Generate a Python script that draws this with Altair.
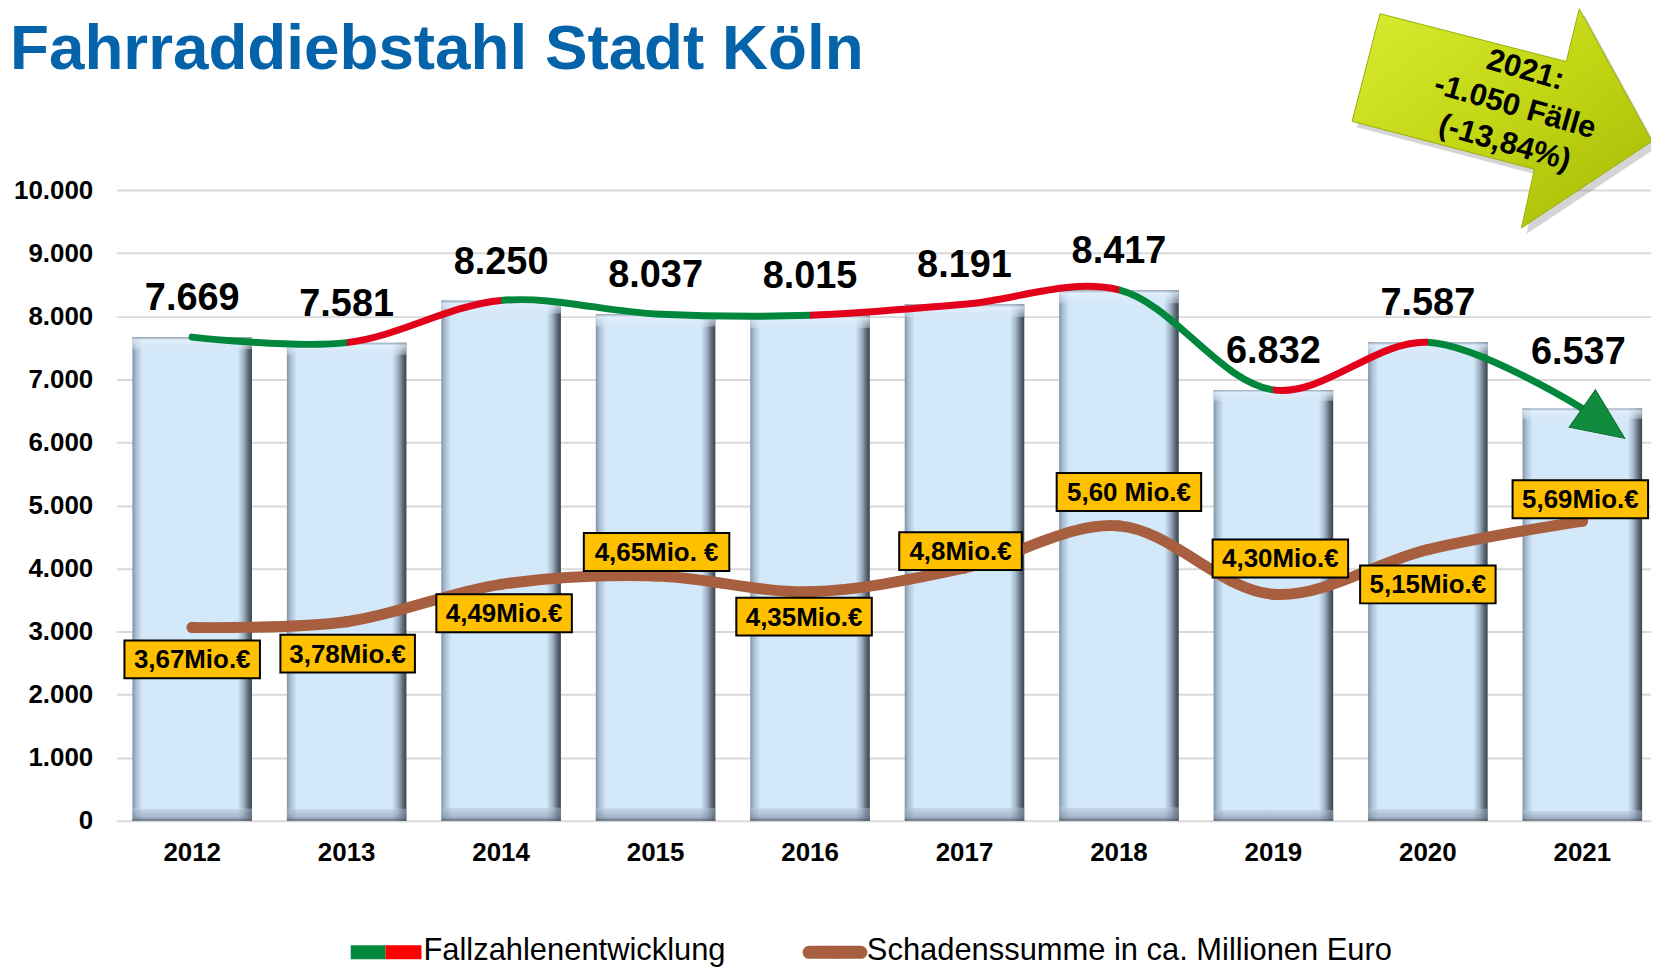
import altair as alt
import pandas as pd

# ---------------- data ----------------
years = ["2012", "2013", "2014", "2015", "2016", "2017", "2018", "2019", "2020", "2021"]
cases = [7669, 7581, 8250, 8037, 8015, 8191, 8417, 6832, 7587, 6537]
damage_mio = [3.67, 3.78, 4.49, 4.65, 4.35, 4.8, 5.60, 4.30, 5.15, 5.69]
damage_labels = ["3,67Mio.€", "3,78Mio.€", "4,49Mio.€", "4,65Mio. €", "4,35Mio.€",
                 "4,8Mio.€", "5,60 Mio.€", "4,30Mio.€", "5,15Mio.€", "5,69Mio.€"]
y_ticks = [0, 1000, 2000, 3000, 4000, 5000, 6000, 7000, 8000, 9000, 10000]
title_text = "Fahrraddiebstahl Stadt Köln"
arrow_text = ["2021:", "-1.050 Fälle", "(-13,84%)"]
legend_cases = "Fallzahlenentwicklung"
legend_damage = "Schadenssumme in ca. Millionen Euro"

# ---------------- style ----------------
W, H = 1540, 633
PAD = {"left": 109, "top": 181, "right": 0, "bottom": 147}
FONT = "Liberation Sans"
BLUE = "#0563AA"
GREEN = "#00873C"
RED = "#E2001A"
BROWN = "#A85F3F"
YELLOW = "#FFC000"
MIO_MAX = 11.976          # secondary (hidden) scale for the Mio-€ line
box_w = [136, 135, 136, 146, 136, 123, 145, 136, 136, 136]
box_h = 38
box_dx = [0, 1, 3, 1, -6, -4, 10, 7, 0, -2]
box_dy = [32, 32, 29, -24, 25, -17, -34, -36, 35, -22]
LEG_Y = 773  # legend text baseline (plot coordinates)

df = pd.DataFrame({"year": years, "cases": cases, "mio": damage_mio, "mlabel": damage_labels})
one = pd.DataFrame({"k": [0]})

case_scale = alt.Scale(domain=[0, 10000], nice=False)
x_enc = alt.X("year:N", sort=years,
              scale=alt.Scale(paddingInner=0.226, paddingOuter=0.08, align=0.64),
              axis=alt.Axis(title=None, labelAngle=0, labelFont=FONT, labelFontSize=26,
                            labelFontWeight="bold", labelColor="black", labelPadding=19,
                            domain=False, ticks=False, tickSize=0, grid=False))
y_cases = alt.Y("cases:Q", scale=case_scale,
                axis=alt.Axis(title=None, values=y_ticks, labelFont=FONT, labelFontSize=26,
                              labelFontWeight="bold", labelColor="black", labelPadding=24,
                              labelExpr="replace(format(datum.value, ','), ',', '.')",
                              domain=False, ticks=False, tickSize=0, grid=True,
                              gridColor="#D9D9D9", gridWidth=2))
y_cases2 = alt.Y("cases:Q", scale=case_scale)
y_mio = alt.Y("mio:Q", scale=alt.Scale(domain=[0, MIO_MAX], nice=False), axis=None)

base = alt.Chart(df)

# bars with bevel-like gradients
bar_fill = alt.Gradient(gradient="linear", x1=0, x2=1, y1=0, y2=0, stops=[
    alt.GradientStop(offset=0.0, color="#7F93A8"),
    alt.GradientStop(offset=0.03, color="#A9BDD2"),
    alt.GradientStop(offset=0.085, color="#D3E8F9"),
    alt.GradientStop(offset=0.88, color="#D3E8F9"),
    alt.GradientStop(offset=0.93, color="#9FB2C4"),
    alt.GradientStop(offset=0.97, color="#5E6B79"),
    alt.GradientStop(offset=1.0, color="#3A434D"),
])
bevel_fill = alt.Gradient(gradient="linear", x1=0, x2=0, y1=0, y2=1, stops=[
    alt.GradientStop(offset=0.0, color="rgba(140,155,170,0.9)"),
    alt.GradientStop(offset=0.006, color="rgba(228,240,252,0.8)"),
    alt.GradientStop(offset=0.024, color="rgba(215,232,248,0.4)"),
    alt.GradientStop(offset=0.026, color="rgba(255,255,255,0)"),
    alt.GradientStop(offset=0.974, color="rgba(255,255,255,0)"),
    alt.GradientStop(offset=0.976, color="rgba(175,193,212,0.45)"),
    alt.GradientStop(offset=0.994, color="rgba(125,140,158,0.6)"),
    alt.GradientStop(offset=1.0, color="rgba(70,80,95,0.9)"),
])
bars = base.mark_bar(fill=bar_fill).encode(x=x_enc, y=y_cases)
bevel = base.mark_bar(fill=bevel_fill).encode(x="year:N", y=y_cases2)

# green/red trend line (green = decrease, red = increase)
stops = []
n = len(cases) - 1
for i in range(n):
    c = GREEN if cases[i + 1] < cases[i] else RED
    stops.append(alt.GradientStop(offset=i / n, color=c))
    stops.append(alt.GradientStop(offset=(i + 1) / n, color=c))
trend_stroke = alt.Gradient(gradient="linear", x1=0, x2=1, y1=0, y2=0, stops=stops)
trend = base.mark_line(interpolate="catmull-rom", stroke=trend_stroke, strokeWidth=7,
                       strokeCap="round").encode(x="year:N", y=y_cases2)
arrowhead = base.transform_filter(alt.datum.year == years[-1]).mark_point(
    shape="M0,-0.46L1.04,0L0,0.46Z", size=10000, angle=35, filled=True,
    fill="#118C3E", stroke="#0B6E2F", strokeWidth=1, opacity=1
).encode(x="year:N", y=y_cases2)

# value labels above bars
lab = base.transform_calculate(lbl="replace(format(datum.cases, ','), ',', '.')")
val_text = dict(font=FONT, fontSize=38, fontWeight="bold", color="black",
                baseline="alphabetic", align="center")
labels_main = lab.transform_filter(alt.datum.year != years[-1]).mark_text(
    dy=-27, **val_text).encode(x="year:N", y=y_cases2, text="lbl:N")
labels_last = lab.transform_filter(alt.datum.year == years[-1]).mark_text(
    dy=-45, dx=-4, **val_text).encode(x="year:N", y=y_cases2, text="lbl:N")

# title
title = alt.Chart(one).mark_text(
    text=title_text, font=FONT, fontSize=64, fontWeight="bold", color=BLUE,
    align="left", baseline="alphabetic").encode(x=alt.value(-107), y=alt.value(-122))

# big yellow-green arrow
ARROW = "M-1.15,-0.98L0.72,-0.50L0.85,-1.03L1.58,0.30L0.27,1.17L0.40,0.58L-1.43,0.10Z"
arrow_fill = alt.Gradient(gradient="linear", x1=0, x2=1, y1=0, y2=1, stops=[
    alt.GradientStop(offset=0.0, color="#D9EB30"),
    alt.GradientStop(offset=0.5, color="#C2D614"),
    alt.GradientStop(offset=1.0, color="#A4BA06"),
])
arrow_shadow = alt.Chart(one).mark_point(
    shape=ARROW, size=40000, filled=True, fill="#555555", opacity=0.25, strokeWidth=0,
    xOffset=5, yOffset=6).encode(x=alt.value(1383), y=alt.value(-79))
arrow = alt.Chart(one).mark_point(
    shape=ARROW, size=40000, filled=True, fill=arrow_fill, stroke="#9AAE0A",
    strokeWidth=1, opacity=1).encode(x=alt.value(1383), y=alt.value(-79))
arrow_label = alt.Chart(one).mark_text(
    text=arrow_text, angle=16, lineHeight=38, font=FONT, fontSize=31, fontWeight="bold",
    color="black", align="center", baseline="middle").encode(x=alt.value(1414), y=alt.value(-120))

# legend (drawn manually)
leg_green = alt.Chart(one).mark_rect(color="#00893E").encode(
    x=alt.value(235), x2=alt.value(270), y=alt.value(LEG_Y - 15), y2=alt.value(LEG_Y - 1))
leg_red = alt.Chart(one).mark_rect(color="#FF0000").encode(
    x=alt.value(270), x2=alt.value(306), y=alt.value(LEG_Y - 15), y2=alt.value(LEG_Y - 1))
leg_text1 = alt.Chart(one).mark_text(
    text=legend_cases, font=FONT, fontSize=31, color="black", align="left",
    baseline="alphabetic").encode(x=alt.value(308), y=alt.value(LEG_Y))
leg_brown = alt.Chart(one).mark_rule(color=BROWN, strokeWidth=13, strokeCap="round").encode(
    x=alt.value(695), x2=alt.value(747), y=alt.value(LEG_Y - 8))
leg_dot = alt.Chart(one).mark_point(shape="circle", size=160, filled=True, color=BROWN,
                                    opacity=1).encode(x=alt.value(721), y=alt.value(LEG_Y - 8))
leg_text2 = alt.Chart(one).mark_text(
    text=legend_damage, font=FONT, fontSize=31, color="black", align="left",
    baseline="alphabetic").encode(x=alt.value(753), y=alt.value(LEG_Y))

count_layer = alt.layer(bars, bevel, trend, arrowhead, labels_main, labels_last, title,
                        arrow_shadow, arrow, arrow_label,
                        leg_green, leg_red, leg_text1, leg_brown, leg_dot, leg_text2)

# Mio-€ line with labelled boxes
mio_line = base.mark_line(interpolate="catmull-rom", color=BROWN, strokeWidth=11,
                          strokeCap="round").encode(x="year:N", y=y_mio)
mio_pts = base.mark_point(filled=True, color=BROWN, size=130, opacity=1).encode(
    x="year:N", y=y_mio)
mio_layers = [mio_line, mio_pts]
for i, yr in enumerate(years):
    w = box_w[i]
    k = box_h / w
    path = f"M-1,{-k:.4f}L1,{-k:.4f}L1,{k:.4f}L-1,{k:.4f}Z"
    sel = base.transform_filter(alt.datum.year == yr)
    box = sel.mark_point(shape=path, size=w * w, filled=True, fill=YELLOW, stroke="black",
                         strokeWidth=2, opacity=1, fillOpacity=1,
                         xOffset=box_dx[i], yOffset=box_dy[i]).encode(x="year:N", y=y_mio)
    txt = sel.mark_text(font=FONT, fontSize=26, fontWeight="bold", color="black",
                        align="center", baseline="middle", dx=box_dx[i], dy=box_dy[i] + 1
                        ).encode(x="year:N", y=y_mio, text="mlabel:N")
    mio_layers += [box, txt]
mio_layer = alt.layer(*mio_layers)

chart = alt.layer(count_layer, mio_layer).resolve_scale(y="independent").properties(
    width=W, height=H, autosize=alt.AutoSizeParams(type="none"), padding=PAD
).configure_view(strokeWidth=0)

chart.save("out.html", embed_options={"renderer": "svg", "actions": False})
